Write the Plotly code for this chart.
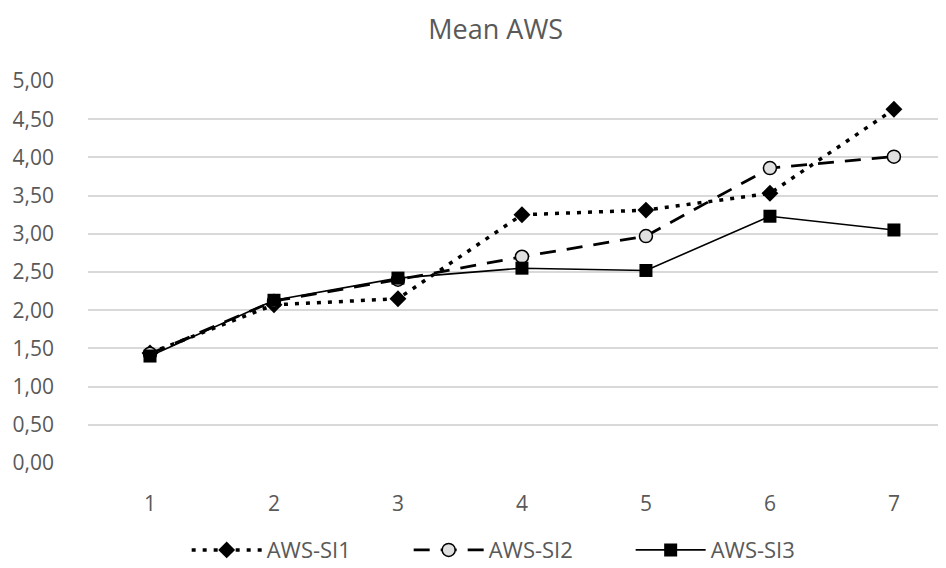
import plotly.graph_objects as go

categories = [1, 2, 3, 4, 5, 6, 7]
si1 = [1.44, 2.07, 2.15, 3.25, 3.31, 3.53, 4.63]
si2 = [1.43, 2.12, 2.40, 2.70, 2.97, 3.86, 4.01]
si3 = [1.40, 2.13, 2.42, 2.55, 2.52, 3.23, 3.05]
y_ticks = [0, 0.5, 1, 1.5, 2, 2.5, 3, 3.5, 4, 4.5, 5]
y_labels = ["0,00", "0,50", "1,00", "1,50", "2,00", "2,50", "3,00", "3,50", "4,00", "4,50", "5,00"]

fig = go.Figure()
fig.add_trace(go.Scatter(
    x=categories, y=si1, name="AWS-SI1", mode="lines+markers",
    line=dict(color="black", width=3.5, dash="4px,7px"),
    marker=dict(symbol="diamond", size=13, color="black"),
))
fig.add_trace(go.Scatter(
    x=categories, y=si2, name="AWS-SI2", mode="lines+markers",
    line=dict(color="black", width=2.8, dash="16px,11px"),
    marker=dict(symbol="circle", size=13, color="#e0e0e0", line=dict(color="black", width=1.5)),
))
fig.add_trace(go.Scatter(
    x=categories, y=si3, name="AWS-SI3", mode="lines+markers",
    line=dict(color="black", width=1.6),
    marker=dict(symbol="square", size=13, color="black"),
))

fig.update_layout(
    width=938, height=560,
    margin=dict(l=80, r=0, t=73, b=105, autoexpand=False),
    paper_bgcolor="white", plot_bgcolor="white",
    title=dict(text="Mean AWS", x=0.52, xanchor="center", y=0.962, yanchor="middle",
               font=dict(family="Open Sans", size=27, color="#595959")),
    font=dict(family="Open Sans", size=22, color="#595959"),
    xaxis=dict(range=[0.5, 7.42], tickvals=categories, ticktext=[str(c) for c in categories],
               showgrid=False, zeroline=False, showline=False, ticks="",
               ticklabelstandoff=26,
               tickfont=dict(size=21, color="#595959")),
    yaxis=dict(range=[0, 5.0], tickvals=y_ticks, ticktext=y_labels,
               showgrid=True, gridcolor="#d9d9d9", gridwidth=1.5, zeroline=False,
               showline=False, ticks="", ticklabelstandoff=33,
               tickfont=dict(size=21, color="#595959")),
    legend=dict(orientation="h", x=0.115, xanchor="left", y=-0.228, yanchor="middle",
                font=dict(size=22, color="#595959"), itemwidth=70,
                entrywidth=137, entrywidthmode="pixels"),
    showlegend=True,
)
fig.write_html("out.html")
